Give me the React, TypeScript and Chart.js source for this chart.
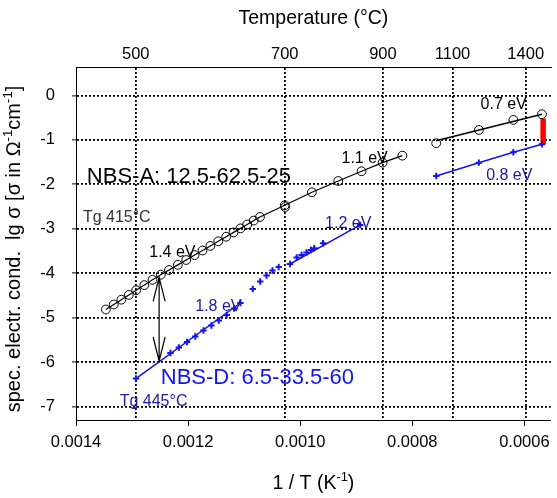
import React, { useEffect, useRef } from "react";
import { Chart, registerables } from "chart.js";
Chart.register(...registerables);

// ---- data (x = 1/T in 1/K, y = lg sigma) ----
const aLowX = [0.0013467, 0.0013326, 0.0013191, 0.0013057, 0.0012927, 0.0012781, 0.0012635, 0.0012487, 0.0012341, 0.0012183, 0.0012033, 0.0011884, 0.0011743, 0.0011603, 0.0011462, 0.0011321, 0.0011189, 0.0011066, 0.0010946, 0.0010829, 0.0010718, 0.0010276, 0.0009791, 0.0009321, 0.0008906, 0.000853, 0.0008178];
const aLowY = [-4.814, -4.702, -4.594, -4.486, -4.382, -4.266, -4.148, -4.032, -3.926, -3.811, -3.701, -3.591, -3.487, -3.384, -3.28, -3.177, -3.08, -2.99, -2.902, -2.814, -2.733, -2.47, -2.178, -1.924, -1.705, -1.512, -1.354];
const aExtraX = [0.0010268];
const aExtraY = [-2.51];
const aHighX = [0.0007574, 0.0006813, 0.0006197, 0.0005687];
const aHighY = [-1.075, -0.776, -0.551, -0.423];
const aHighFitX = [0.0007574, 0.0005687];
const aHighFitY = [-1.018, -0.423];

const dLowX = [0.0012931, 0.0012315, 0.0012165, 0.0012019, 0.0011872, 0.0011726, 0.0011585, 0.0011453, 0.0011312, 0.001118, 0.0011066];
const dLowY = [-6.367, -5.793, -5.669, -5.546, -5.422, -5.287, -5.174, -5.062, -4.938, -4.792, -4.668];
const dMidX = [0.0010846, 0.0010714, 0.00106, 0.0010494, 0.0010384, 0.0010183, 0.0010063, 0.0009975, 0.0009887, 0.0009808, 0.000975, 0.0009592, 0.0008929];
const dMidY = [-4.353, -4.184, -4.049, -3.937, -3.858, -3.791, -3.645, -3.588, -3.532, -3.476, -3.438, -3.325, -2.913];
const dHighX = [0.0007574, 0.0006813, 0.0006197, 0.0005687];
const dHighY = [-1.811, -1.512, -1.278, -1.098];
const dFit1X = [0.0012931, 0.0011066];
const dFit1Y = [-6.367, -4.668];
const dFit2X = [0.0010183, 0.0008929];
const dFit2Y = [-3.791, -2.913];

const redBarX = [0.0005666, 0.0005666];
const redBarY = [-0.517, -1.098];

const arrowX = 0.0012517;
const arrowY = [-4.094, -5.973];

// ---- ticks ----
const bottomTicks = [0.0014, 0.0012, 0.001, 0.0008, 0.0006];
const tempTicks = [500, 700, 900, 1100, 1400];
const yTicks = [0, -1, -2, -3, -4, -5, -6, -7];

const X_MIN = 0.000553;
const X_MAX = 0.0014;
const Y_MIN = -7.3;
const Y_MAX = 0.64;

const FONT = "'Liberation Sans', Arial, Helvetica, sans-serif";
const NAVY = "#1c1c9c";
const BLUE = "#1414f0";

const labels = [
  { text: "NBS-A: 12.5-62.5-25", x: 0.0013807, y: -1.975, size: 22, color: "#000" },
  { text: "Tg 415°C", x: 0.0013877, y: -2.839, size: 16, color: "#333" },
  { text: "1.4 eV", x: 0.0012693, y: -3.627, size: 16, color: "#000" },
  { text: "1.1 eV", x: 0.0009263, y: -1.525, size: 16, color: "#000" },
  { text: "1.2 eV", x: 0.0009557, y: -2.988, size: 16, color: NAVY },
  { text: "1.8 eV", x: 0.0011872, y: -4.841, size: 16, color: NAVY },
  { text: "NBS-D: 6.5-33.5-60", x: 0.0012487, y: -6.49, size: 22, color: BLUE },
  { text: "Tg 445°C", x: 0.0013221, y: -6.985, size: 16, color: NAVY },
  { text: "0.7 eV", x: 0.0006783, y: -0.31, size: 16, color: "#000" },
  { text: "0.8 eV", x: 0.0006683, y: -1.901, size: 16, color: NAVY },
];

const pts = (xs: number[], ys: number[]) => xs.map((x, i) => ({ x, y: ys[i] }));

type Part = { t: string; sup?: boolean };
function drawRich(ctx: CanvasRenderingContext2D, parts: Part[], cx: number, y: number, size: number) {
  const sup = size * 0.66;
  let w = 0;
  for (const p of parts) {
    ctx.font = `${p.sup ? sup : size}px ${FONT}`;
    w += ctx.measureText(p.t).width;
  }
  let x = cx - w / 2;
  ctx.textAlign = "left";
  ctx.textBaseline = "alphabetic";
  for (const p of parts) {
    ctx.font = `${p.sup ? sup : size}px ${FONT}`;
    ctx.fillText(p.t, x, p.sup ? y - size * 0.42 : y);
    x += ctx.measureText(p.t).width;
  }
}

const overlay = {
  id: "overlay",
  afterDatasetsDraw(chart: any) {
    const { ctx, scales } = chart;
    const xs = scales.x;
    const ys = scales.y;
    ctx.save();
    // double arrow
    const ax = xs.getPixelForValue(arrowX);
    const y1 = ys.getPixelForValue(arrowY[0]);
    const y2 = ys.getPixelForValue(arrowY[1]);
    ctx.strokeStyle = "#000";
    ctx.lineWidth = 1.2;
    ctx.beginPath();
    ctx.moveTo(ax, y1);
    ctx.lineTo(ax, y2);
    ctx.moveTo(ax - 6, y1 + 24);
    ctx.lineTo(ax, y1);
    ctx.lineTo(ax + 6, y1 + 24);
    ctx.moveTo(ax - 6, y2 - 24);
    ctx.lineTo(ax, y2);
    ctx.lineTo(ax + 6, y2 - 24);
    ctx.stroke();
    // text labels
    ctx.textAlign = "left";
    ctx.textBaseline = "alphabetic";
    for (const l of labels) {
      ctx.font = `${l.size}px ${FONT}`;
      ctx.fillStyle = l.color;
      ctx.fillText(l.text, xs.getPixelForValue(l.x), ys.getPixelForValue(l.y));
    }
    ctx.restore();
  },
  afterDraw(chart: any) {
    const { ctx, chartArea } = chart;
    ctx.save();
    ctx.fillStyle = "#000";
    const cx = (chartArea.left + chartArea.right) / 2;
    // bottom title
    drawRich(ctx, [{ t: "1 / T (K" }, { t: "-1", sup: true }, { t: ")" }], cx, 489, 19.5);
    // top title
    drawRich(ctx, [{ t: "Temperature (°C)" }], cx, 24, 19.5);
    // y title
    ctx.translate(20, 249);
    ctx.rotate(-Math.PI / 2);
    drawRich(
      ctx,
      [
        { t: "spec. electr. cond.  lg σ [σ in Ω" },
        { t: "-1", sup: true },
        { t: "cm" },
        { t: "-1", sup: true },
        { t: "]" },
      ],
      0,
      0,
      20
    );
    ctx.restore();
  },
};

export default function App() {
  const ref = useRef<HTMLCanvasElement>(null);
  useEffect(() => {
    if (!ref.current) return;
    Chart.defaults.font.family = FONT;
    const tickFont = { size: 16.5, family: FONT };
    const chart = new Chart(ref.current, {
      type: "scatter",
      data: {
        datasets: [
          {
            data: pts(aLowX, aLowY),
            showLine: true,
            borderColor: "#000",
            borderWidth: 1.2,
            pointStyle: "circle",
            pointRadius: 4.4,
            pointBorderColor: "#000",
            pointBackgroundColor: "rgba(0,0,0,0)",
            pointBorderWidth: 1,
          },
          {
            data: pts(aExtraX, aExtraY),
            pointStyle: "circle",
            pointRadius: 4.4,
            pointBorderColor: "#000",
            pointBackgroundColor: "rgba(0,0,0,0)",
            pointBorderWidth: 1,
          },
          {
            data: pts(aHighFitX, aHighFitY),
            showLine: true,
            borderColor: "#000",
            borderWidth: 1.5,
            pointRadius: 0,
          },
          {
            data: pts(aHighX, aHighY),
            pointStyle: "circle",
            pointRadius: 4.4,
            pointBorderColor: "#000",
            pointBackgroundColor: "rgba(0,0,0,0)",
            pointBorderWidth: 1,
          },
          {
            data: pts(dFit1X, dFit1Y),
            showLine: true,
            borderColor: BLUE,
            borderWidth: 1.5,
            pointRadius: 0,
          },
          {
            data: pts(dFit2X, dFit2Y),
            showLine: true,
            borderColor: BLUE,
            borderWidth: 1.5,
            pointRadius: 0,
          },
          {
            data: pts(dLowX, dLowY),
            pointStyle: "cross",
            pointRadius: 3.2,
            pointBorderColor: BLUE,
            pointBorderWidth: 2,
          },
          {
            data: pts(dMidX, dMidY),
            pointStyle: "cross",
            pointRadius: 3.2,
            pointBorderColor: BLUE,
            pointBorderWidth: 2,
          },
          {
            data: pts(dHighX, dHighY),
            showLine: true,
            borderColor: BLUE,
            borderWidth: 1.5,
            pointStyle: "cross",
            pointRadius: 3.2,
            pointBorderColor: BLUE,
            pointBorderWidth: 2,
          },
          {
            data: pts(redBarX, redBarY),
            showLine: true,
            borderColor: "#ff0000",
            borderWidth: 5.5,
            borderCapStyle: "butt",
            pointRadius: 0,
          },
        ],
      },
      options: {
        animation: false,
        responsive: false,
        layout: { padding: 0 },
        plugins: { legend: { display: false }, tooltip: { enabled: false }, title: { display: false } },
        scales: {
          x: {
            type: "linear",
            position: "bottom",
            reverse: true,
            min: X_MIN,
            max: X_MAX,
            afterBuildTicks: (s: any) => {
              s.ticks = bottomTicks.map((v) => ({ value: v }));
            },
            afterFit: (s: any) => {
              s.height = 78;
            },
            ticks: {
              callback: (v: any) => Number(v).toFixed(4),
              font: tickFont,
              color: "#000",
              padding: 7,
              maxRotation: 0,
              autoSkip: false,
            },
            grid: { drawOnChartArea: false, drawTicks: true, tickLength: 6, tickColor: "#000", tickWidth: 1 },
            border: { display: true, color: "#000", width: 1 },
          },
          x2: {
            type: "linear",
            position: "top",
            reverse: true,
            min: X_MIN,
            max: X_MAX,
            afterBuildTicks: (s: any) => {
              s.ticks = tempTicks.map((t) => ({ value: 1 / (t + 273.15) }));
            },
            afterFit: (s: any) => {
              s.height = 67;
            },
            ticks: {
              callback: (_v: any, i: number) => String(tempTicks[i]),
              font: tickFont,
              color: "#000",
              padding: 3,
              maxRotation: 0,
              autoSkip: false,
            },
            grid: { drawOnChartArea: true, drawTicks: false, color: "#000", lineWidth: 1.8 },
            border: { display: true, color: "#000", width: 1, dash: [2, 2] },
          },
          y: {
            type: "linear",
            min: Y_MIN,
            max: Y_MAX,
            afterBuildTicks: (s: any) => {
              s.ticks = yTicks.map((v) => ({ value: v }));
            },
            afterFit: (s: any) => {
              s.width = 76;
            },
            ticks: {
              callback: (v: any) => String(v),
              font: tickFont,
              color: "#000",
              padding: 17,
            },
            grid: { drawOnChartArea: true, drawTicks: true, tickLength: 4, color: "#000", lineWidth: 1.8, tickColor: "#000", tickWidth: 1 },
            border: { display: true, color: "#000", width: 1, dash: [2, 2] },
          },
        },
      },
      plugins: [overlay],
    } as any);
    return () => chart.destroy();
  }, []);
  return (
    <div style={{ position: "absolute", left: 0, top: 0, width: 557, height: 498, background: "#fff" }}>
      <canvas ref={ref} width={557} height={498} style={{ display: "block" }} />
    </div>
  );
}
